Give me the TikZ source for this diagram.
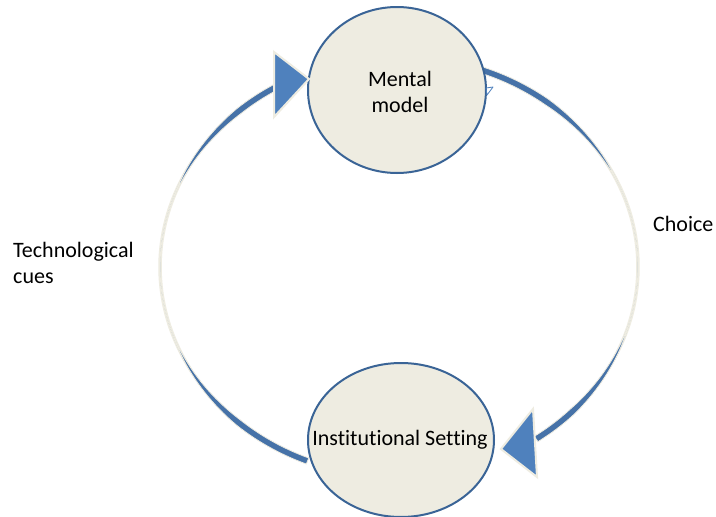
\documentclass[tikz,border=0pt]{standalone}
\usepackage{fontspec}
\setmainfont{Carlito}[Ligatures={NoCommon,NoRequired,NoContextual}]
\usetikzlibrary{shapes.geometric}
\definecolor{cream}{HTML}{EEECE1}
\definecolor{bandblue}{HTML}{4672A8}
\definecolor{arrowblue}{HTML}{4F81BD}
\definecolor{edgeblue}{HTML}{3A6496}
\begin{document}
\begin{tikzpicture}[x=1pt, y=-1pt,
  declare function={wl(\t)=min(6.5,6.5*max(0,abs(\t-180)-18)/30);
                    wr(\t)=min(6.5,6.5*max(0,abs(\t-4)-18)/30);},
  every node/.style={font=\fontsize{22}{26}\selectfont},
  ell/.style={ellipse, draw=edgeblue, line width=2pt, fill=cream, inner sep=0pt},
  bandback/.style={cream, line width=3.5pt},
  band/.style={fill=bandblue, draw=cream, line width=0.8pt},
  head/.style={fill=arrowblue, draw=cream, line width=2pt, line join=miter}]
\useasboundingbox (0,0) rectangle (716,517);
\clip (0,0) rectangle (716,517);
\fill[white] (0,0) rectangle (716,517);

% left arc (Technological cues)
\draw[bandback] plot[domain=247.5:121, samples=90] ({399+239*cos(\x)},{267-210*sin(\x)});
\fill[band] plot[domain=247.5:121, samples=90] ({399+(239+wl(\x)/2)*cos(\x)},{267-(210+wl(\x)/2)*sin(\x)})
  -- plot[domain=121:247.5, samples=90] ({399+(239-wl(\x)/2)*cos(\x)},{267-(210-wl(\x)/2)*sin(\x)}) -- cycle;

% right arc (Choice)
\draw[bandback] plot[domain=70:-55, samples=90] ({399+239*cos(\x)},{267-210*sin(\x)});
\fill[band] plot[domain=70:-55, samples=90] ({399+(239+wr(\x)/2)*cos(\x)},{267-(210+wr(\x)/2)*sin(\x)})
  -- plot[domain=-55:70, samples=90] ({399+(239-wr(\x)/2)*cos(\x)},{267-(210-wr(\x)/2)*sin(\x)}) -- cycle;

% ellipses
\node[ell, minimum width=178pt, minimum height=166pt] (mm) at (397,90) {};
\node[ell, minimum width=186pt, minimum height=154pt] (is) at (401,440) {};

% arrowheads
\path[head] (274,52) -- (309,79) -- (274,117) -- cycle;
\path[head] (501,449) -- (533,409) -- (537,477) -- cycle;

% tiny artifact
\draw[arrowblue, line width=0.8pt, line join=round] (486,88) -- (493,87) -- (487,95) -- cycle;

% texts
\node[align=center, inner sep=0pt] (mmt) at (400,92) {Mental\\model};
\node[inner sep=0pt] (ist) at (400,440) {Institutional Setting};
\node[anchor=north west, align=left, inner sep=0pt] (tc) at (13,242) {Technological\\cues};
\node[anchor=base west, inner sep=0pt] (ch) at (653,231) {Choice};
\end{tikzpicture}
\end{document}
